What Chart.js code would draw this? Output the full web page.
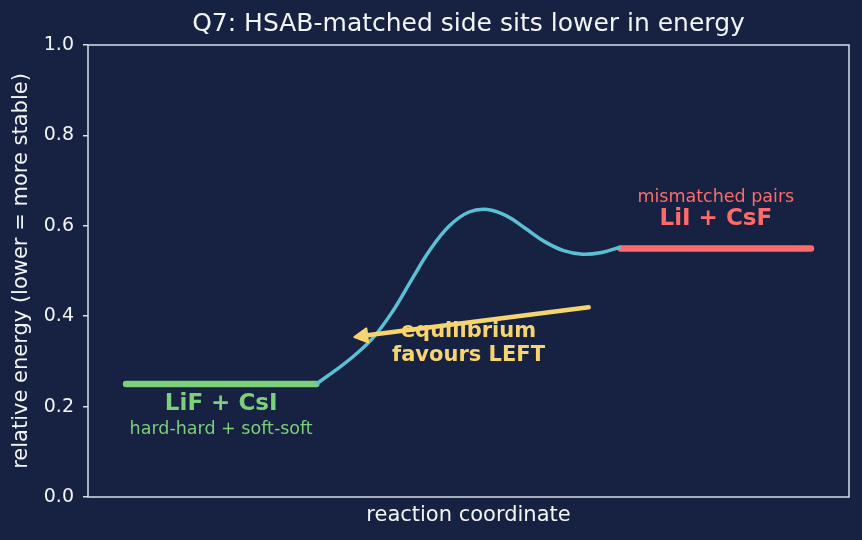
<!DOCTYPE html>
<html>
<head>
<meta charset="utf-8">
<script src="https://cdn.jsdelivr.net/npm/chart.js@4/dist/chart.umd.min.js"></script>
<style>
  html, body { margin: 0; padding: 0; background: #172141; }
  #wrap { width: 862px; height: 540px; }
</style>
</head>
<body>
<div id="wrap"><canvas id="energyChart" width="862" height="540"></canvas></div>
<script>
// ======================
// Data
// ======================
const yTicks = [0.0, 0.2, 0.4, 0.6, 0.8, 1.0];

const leftLevelX = [0.5, 3.0];
const leftLevelY = [0.25, 0.25];

const rightLevelX = [7.0, 9.5];
const rightLevelY = [0.55, 0.55];

const pathX = [3.0, 3.25, 3.5, 3.75, 4.0, 4.25, 4.5, 4.75, 5.0, 5.25, 5.5, 5.75, 6.0, 6.25, 6.5, 6.75, 7.0];
const pathY = [0.25, 0.28, 0.313, 0.353, 0.41, 0.48, 0.548, 0.60, 0.63, 0.636, 0.622, 0.594, 0.565, 0.545, 0.537, 0.541, 0.553];

const arrowFrom = [6.58, 0.42];
const arrowTo = [3.5, 0.354];

const labelX = [1.75, 1.75, 8.25, 8.25, 5.0, 5.0];
const labelY = [0.205, 0.15, 0.615, 0.663, 0.365, 0.313];
const labelText = ["LiF + CsI", "hard-hard + soft-soft", "LiI + CsF", "mismatched pairs", "equilibrium", "favours LEFT"];

// ======================
// Colours
// ======================
const BG = "#172141";
const SPINE = "#d8dfe6";
const TEXT = "#f2f5f8";
const GREEN = "#7cd079";
const RED = "#ff6b6b";
const CYAN = "#5bbfd6";
const YELLOW = "#f7d56e";
const FONT = "'DejaVu Sans', sans-serif";

const labelStyle = [
  { color: GREEN, font: "bold 23px " + FONT },
  { color: GREEN, font: "17.5px " + FONT },
  { color: RED, font: "bold 23px " + FONT },
  { color: RED, font: "17.5px " + FONT },
  { color: YELLOW, font: "bold 21px " + FONT },
  { color: YELLOW, font: "bold 21px " + FONT },
];

function toPoints(xs, ys) {
  return xs.map((x, i) => ({ x: x, y: ys[i] }));
}

// background, frame, title, labels and arrow
const decorPlugin = {
  id: "decor",
  beforeDraw(chart) {
    const ctx = chart.ctx;
    ctx.save();
    ctx.fillStyle = BG;
    ctx.fillRect(0, 0, chart.width, chart.height);
    ctx.restore();
  },
  afterDatasetsDraw(chart) {
    const ctx = chart.ctx;
    const xs = chart.scales.x;
    const ys = chart.scales.y;
    const a = chart.chartArea;
    ctx.save();

    // frame
    ctx.strokeStyle = SPINE;
    ctx.lineWidth = 1.5;
    ctx.strokeRect(a.left, a.top, a.right - a.left, a.bottom - a.top);

    // title
    ctx.fillStyle = TEXT;
    ctx.font = "25px " + FONT;
    ctx.textAlign = "center";
    ctx.textBaseline = "middle";
    ctx.fillText("Q7: HSAB-matched side sits lower in energy", (a.left + a.right) / 2, 24);

    // annotations
    labelText.forEach((t, i) => {
      ctx.fillStyle = labelStyle[i].color;
      ctx.font = labelStyle[i].font;
      ctx.fillText(t, xs.getPixelForValue(labelX[i]), ys.getPixelForValue(labelY[i]));
    });

    // arrow (shaft + small filled head)
    const x0 = xs.getPixelForValue(arrowFrom[0]), y0 = ys.getPixelForValue(arrowFrom[1]);
    const x1 = xs.getPixelForValue(arrowTo[0]), y1 = ys.getPixelForValue(arrowTo[1]);
    const ang = Math.atan2(y1 - y0, x1 - x0);
    ctx.strokeStyle = YELLOW;
    ctx.fillStyle = YELLOW;
    ctx.lineWidth = 4.5;
    ctx.lineCap = "round";
    ctx.lineJoin = "round";
    const hl = 13, hw = 7;
    const bx = x1 - hl * Math.cos(ang), by = y1 - hl * Math.sin(ang);
    ctx.beginPath();
    ctx.moveTo(x0, y0);
    ctx.lineTo(bx, by);
    ctx.stroke();
    ctx.lineWidth = 2;
    ctx.beginPath();
    ctx.moveTo(x1, y1);
    ctx.lineTo(bx + hw * Math.sin(ang), by - hw * Math.cos(ang));
    ctx.lineTo(bx - hw * Math.sin(ang), by + hw * Math.cos(ang));
    ctx.closePath();
    ctx.fill();
    ctx.stroke();

    ctx.restore();
  },
};

const ctx = document.getElementById("energyChart").getContext("2d");
const energyChart = new Chart(ctx, {
  type: "scatter",
  data: {
    datasets: [
      {
        data: toPoints(pathX, pathY),
        showLine: true,
        borderColor: CYAN,
        borderWidth: 3.5,
        pointRadius: 0,
        tension: 0.4,
      },
      {
        data: toPoints(leftLevelX, leftLevelY),
        showLine: true,
        borderColor: GREEN,
        borderWidth: 6.5,
        borderCapStyle: "round",
        pointRadius: 0,
      },
      {
        data: toPoints(rightLevelX, rightLevelY),
        showLine: true,
        borderColor: RED,
        borderWidth: 6.5,
        borderCapStyle: "round",
        pointRadius: 0,
      },
    ],
  },
  options: {
    responsive: false,
    animation: false,
    layout: { padding: { top: 45, right: 13, left: 0, bottom: 0 } },
    plugins: {
      legend: { display: false },
      tooltip: { enabled: false },
    },
    scales: {
      x: {
        type: "linear",
        min: 0,
        max: 10,
        ticks: { display: false },
        grid: { display: false },
        border: { display: false },
        title: {
          display: true,
          text: "reaction coordinate",
          color: TEXT,
          font: { family: FONT, size: 21 },
          padding: { top: 0, bottom: 12 },
        },
        afterFit(scale) { scale.height = 43; },
      },
      y: {
        min: 0,
        max: 1,
        afterBuildTicks(scale) { scale.ticks = yTicks.map((v) => ({ value: v })); },
        ticks: {
          color: TEXT,
          font: { family: FONT, size: 19 },
          padding: 9,
          callback: (v) => v.toFixed(1),
        },
        grid: {
          drawOnChartArea: false,
          drawTicks: true,
          tickLength: 5,
          color: SPINE,
          lineWidth: 1.5,
        },
        border: { display: false },
        title: {
          display: true,
          text: "relative energy (lower = more stable)",
          color: TEXT,
          font: { family: FONT, size: 21 },
          padding: { top: 9, bottom: 0 },
        },
        afterFit(scale) { scale.width = 88; },
      },
    },
  },
  plugins: [decorPlugin],
});
</script>
</body>
</html>
